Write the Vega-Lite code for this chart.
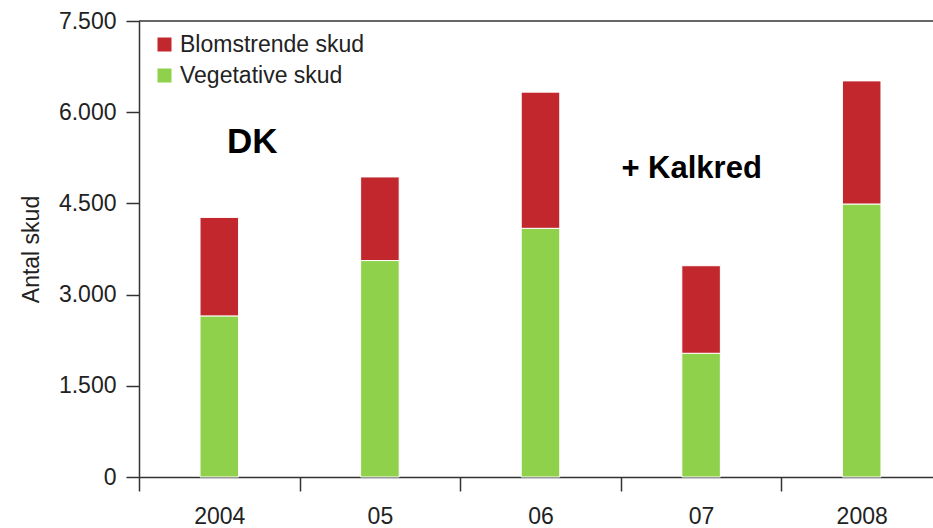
{
  "$schema": "https://vega.github.io/schema/vega-lite/v6.json",
  "autosize": "none",
  "width": 803,
  "height": 456,
  "padding": {"left": 139, "top": 21, "right": 0, "bottom": 51},
  "background": "white",
  "config": {"view": {"stroke": null}, "font": "Liberation Sans"},
  "layer": [
    {
      "data": {
        "values": [
          {"year": "2004", "type": "Vegetative skud", "count": 2650},
          {"year": "2004", "type": "Blomstrende skud", "count": 1620},
          {"year": "05", "type": "Vegetative skud", "count": 3560},
          {"year": "05", "type": "Blomstrende skud", "count": 1375},
          {"year": "06", "type": "Vegetative skud", "count": 4090},
          {"year": "06", "type": "Blomstrende skud", "count": 2240},
          {"year": "07", "type": "Vegetative skud", "count": 2035},
          {"year": "07", "type": "Blomstrende skud", "count": 1440},
          {"year": "2008", "type": "Vegetative skud", "count": 4490},
          {"year": "2008", "type": "Blomstrende skud", "count": 2025}
        ]
      },
      "mark": {"type": "bar", "width": {"band": 0.24}, "stroke": "white", "strokeWidth": 1},
      "encoding": {
        "x": {
          "field": "year", "type": "nominal",
          "sort": ["2004", "05", "06", "07", "2008"],
          "scale": {"paddingInner": 0, "paddingOuter": 0},
          "axis": {
            "title": null, "labelAngle": 0, "tickOffset": -80.3, "labelOffset": 80.3,
            "tickSize": 14, "labelPadding": 14, "labelFontSize": 23, "labelColor": "#222",
            "domainColor": "#333", "tickColor": "#333", "domainWidth": 1.5, "tickWidth": 1.5
          }
        },
        "y": {
          "field": "count", "type": "quantitative", "stack": "zero",
          "scale": {"domain": [0, 7500], "nice": false},
          "axis": {
            "values": [0, 1500, 3000, 4500, 6000, 7500],
            "labelExpr": "replace(format(datum.value, ','), ',', '.')",
            "title": "Antal skud", "titleFontSize": 23, "titleFontWeight": "normal", "titleColor": "#222",
            "titlePadding": 15, "tickSize": 13, "labelPadding": 10, "labelFontSize": 23, "labelColor": "#222",
            "grid": false, "domainColor": "#333", "tickColor": "#333", "domainWidth": 1.5, "tickWidth": 1.5
          }
        },
        "color": {
          "field": "type", "type": "nominal",
          "scale": {"domain": ["Blomstrende skud", "Vegetative skud"], "range": ["#c1272d", "#8fd14a"]},
          "legend": {
            "orient": "none", "legendX": 14, "legendY": 12, "title": null, "symbolType": "square",
            "symbolSize": 196, "labelFontSize": 23, "labelColor": "#222", "rowPadding": 7,
            "symbolStrokeWidth": 0, "labelOffset": 4, "labelLimit": 500, "padding": 0
          }
        },
        "order": {"field": "type", "sort": "descending"}
      }
    },
    {
      "data": {"values": [{}]},
      "mark": {"type": "rule", "color": "#333", "strokeWidth": 1.5},
      "encoding": {"y": {"datum": 7500}}
    },
    {
      "data": {"values": [{}]},
      "mark": {"type": "text", "text": "DK", "fontSize": 35, "fontWeight": "bold", "color": "#000", "dx": 33, "baseline": "alphabetic", "align": "center"},
      "encoding": {"x": {"datum": "2004"}, "y": {"datum": 5335}}
    },
    {
      "data": {"values": [{}]},
      "mark": {"type": "text", "text": "+ Kalkred", "fontSize": 31, "fontWeight": "bold", "color": "#000", "dx": -9.5, "baseline": "alphabetic", "align": "center"},
      "encoding": {"x": {"datum": "07"}, "y": {"datum": 4923}}
    }
  ]
}
